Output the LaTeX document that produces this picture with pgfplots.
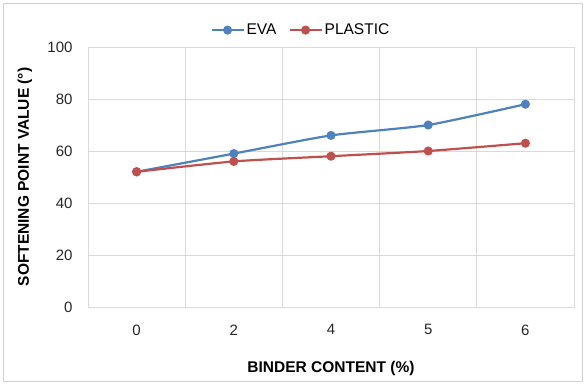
\documentclass[border=0pt]{standalone}
\usepackage{pgfplots}
\pgfplotsset{compat=1.18}
\usepackage{fontspec}
\setmainfont{Liberation Sans}
\definecolor{evablue}{HTML}{4F81BD}
\definecolor{plred}{HTML}{C0504D}
\definecolor{gridc}{HTML}{D9D9D9}
\begin{document}
\begin{tikzpicture}
\useasboundingbox (-88pt,-77pt) rectangle (497pt,307pt);
\draw[gray!35, line width=0.8pt] (-85pt,-74pt) rectangle (494pt,304pt);
\begin{axis}[
  scale only axis,
  width=486pt, height=260pt,
  xmin=-0.5, xmax=4.5, ymin=0, ymax=100,
  xtick={0,1,2,3,4}, xticklabels={0,2,4,5,6},
  minor xtick={0.5,1.5,2.5,3.5},
  ytick={0,20,40,60,80,100},
  ymajorgrids, xminorgrids,
  grid style={gridc, line width=0.8pt},
  minor grid style={gridc, line width=0.8pt},
  axis line style={gridc, line width=0.8pt},
  major tick length=0pt, minor tick length=0pt,
  tick label style={font=\fontsize{15}{17}\selectfont, text=black!85},
  /pgf/number format/assume math mode=true,
  xticklabel style={yshift=-14pt},
  yticklabel style={xshift=-12pt},
  xlabel={\textbf{BINDER CONTENT (\%)}},
  ylabel={\textbf{SOFTENING POINT VALUE (°)}},
  every axis x label/.style={at={(axis description cs:0.5,-0.235)}, anchor=center, font=\fontsize{15.5}{17}\selectfont},
  every axis y label/.style={at={(axis description cs:-0.13,0.5)}, rotate=90, anchor=center, font=\fontsize{15.5}{17}\selectfont},
  legend style={at={(axis description cs:0.438,1.065)}, anchor=center, draw=none,
    fill=none, legend columns=2, font=\fontsize{15.5}{17}\selectfont,
    /tikz/every even column/.append style={column sep=10pt},
    /tikz/every node/.append style={inner xsep=2pt}},
  legend image code/.code={
    \draw[#1, mark=none] (0pt,0pt) -- (32pt,0pt);
    \draw[#1, only marks] plot coordinates {(16pt,0pt)};
  },
  clip=false,
]
\addplot[evablue, line width=2.2pt, smooth, tension=0.35, mark=*, mark size=3.4pt, mark options={solid, fill=evablue, draw=evablue}]
  coordinates {(0,52) (1,59) (2,66) (3,70) (4,78)};
\addlegendentry{EVA}
\addplot[plred, line width=2.2pt, smooth, tension=0.35, mark=*, mark size=3.4pt, mark options={solid, fill=plred, draw=plred}]
  coordinates {(0,52) (1,56) (2,58) (3,60) (4,63)};
\addlegendentry{PLASTIC}
\end{axis}
\end{tikzpicture}
\end{document}
